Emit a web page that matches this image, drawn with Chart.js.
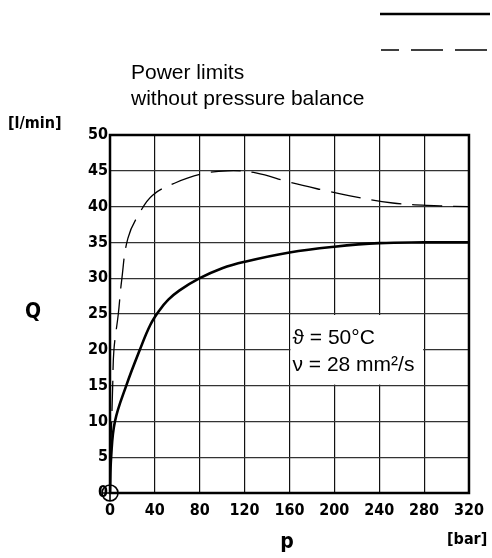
<!DOCTYPE html>
<html>
<head>
<meta charset="utf-8">
<script src="https://cdn.jsdelivr.net/npm/chart.js@4/dist/chart.umd.min.js"></script>
<style>
  html, body { margin: 0; padding: 0; background: #fff; }
  #wrap { width: 492px; height: 558px; }
</style>
</head>
<body>
<div id="wrap"><canvas id="chart-pq"></canvas></div>
<script>
// pressure p [bar] / flow Q [l/min]
const solidP = [0, 1, 4.4, 14.5, 26.6, 36, 44, 52, 62, 80, 100, 120, 160, 200, 240, 280, 320];
const solidQ = [0, 5, 10, 15, 20, 23.5, 25.5, 27, 28.3, 30, 31.4, 32.3, 33.6, 34.4, 34.9, 35, 35];
const dashP = [0, 0.5, 1.5, 2.4, 3.5, 7.4, 10.4, 16, 26.7, 38, 58, 80, 105, 130, 160, 190, 214, 252, 294, 320];
const dashQ = [0, 5, 10, 15, 20, 25, 29.7, 35.6, 39.2, 41.6, 43.3, 44.5, 45, 44.7, 43.4, 42.3, 41.5, 40.5, 40.1, 40];
const xTicks = [0, 40, 80, 120, 160, 200, 240, 280, 320];
const yTicks = [0, 5, 10, 15, 20, 25, 30, 35, 40, 45, 50];

const tickFont = { family: "'DejaVu Sans Condensed', sans-serif", size: 16, weight: 'bold' };

function pts(xs, ys) {
  return xs.map((x, i) => ({ x: x, y: ys[i] }));
}

const decor = {
  id: 'decor',
  beforeDatasetsDraw(chart) {
    const { ctx, scales: { x, y } } = chart;
    // white text box over cells 160-280 / 15-25
    const l = x.getPixelForValue(160), r = x.getPixelForValue(280);
    const t = y.getPixelForValue(25), b = y.getPixelForValue(15);
    ctx.save();
    ctx.fillStyle = '#fff';
    ctx.fillRect(l + 1, t + 1, r - l - 2, b - t - 2);
    ctx.fillStyle = '#000';
    ctx.font = "21px 'Liberation Sans', Arial, sans-serif";
    ctx.textBaseline = 'alphabetic';
    ctx.fillText('\u03D1 = 50°C', l + 3, t + 30);
    ctx.fillText('\u03BD = 28 mm²/s', l + 3, t + 57);
    ctx.restore();
  },
  afterDraw(chart) {
    const { ctx, chartArea: a } = chart;
    ctx.save();
    // frame
    ctx.strokeStyle = '#000';
    ctx.lineWidth = 2.5;
    ctx.strokeRect(a.left, a.top, a.right - a.left, a.bottom - a.top);

    // legend samples, top right
    ctx.lineWidth = 2.5;
    ctx.beginPath();
    ctx.moveTo(380, 14); ctx.lineTo(490, 14);
    ctx.stroke();
    ctx.lineWidth = 1.5;
    ctx.setLineDash([32, 12]);
    ctx.lineDashOffset = 14;
    ctx.beginPath();
    ctx.moveTo(381, 50); ctx.lineTo(489, 50);
    ctx.stroke();
    ctx.setLineDash([]);

    // title
    ctx.fillStyle = '#000';
    ctx.font = "21px 'Liberation Sans', Arial, sans-serif";
    ctx.textAlign = 'left';
    ctx.textBaseline = 'alphabetic';
    ctx.fillText('Power limits', 131, 79);
    ctx.fillText('without pressure balance', 131, 105);

    // axis labels
    ctx.font = "bold 16px 'DejaVu Sans Condensed', sans-serif";
    ctx.textBaseline = 'middle';
    ctx.fillText('[l/min]', 8, 124);
    ctx.fillText('[bar]', 447, 540);
    ctx.font = "bold 21px 'DejaVu Sans Condensed', sans-serif";
    ctx.textAlign = 'center';
    ctx.fillText('Q', 33, 313);
    ctx.fillText('p', 287, 543);
    ctx.restore();
  }
};

new Chart(document.getElementById('chart-pq').getContext('2d'), {
  type: 'line',
  data: {
    datasets: [
      {
        label: 'solid',
        data: pts(solidP, solidQ),
        borderColor: '#000',
        borderWidth: 2.6,
        pointRadius: 0,
        tension: 0.4,
        fill: false
      },
      {
        label: 'dashed',
        data: pts(dashP, dashQ),
        borderColor: '#000',
        borderWidth: 1.3,
        borderDash: [30, 11],
        pointRadius: 0,
        tension: 0.4,
        fill: false
      },
      {
        label: 'origin',
        data: [{ x: 0, y: 0 }],
        showLine: false,
        pointStyle: 'circle',
        pointRadius: 8,
        pointBorderWidth: 1.6,
        pointBorderColor: '#000',
        pointBackgroundColor: 'rgba(0,0,0,0)',
        clip: false
      },
      {
        label: 'origin-cross',
        data: [{ x: 0, y: 0 }],
        showLine: false,
        pointStyle: 'cross',
        pointRadius: 8,
        pointBorderWidth: 1.6,
        pointBorderColor: '#000',
        clip: false
      }
    ]
  },
  options: {
    responsive: true,
    maintainAspectRatio: false,
    animation: false,
    layout: { padding: { left: 0, top: 135, right: 23, bottom: 0 } },
    plugins: {
      legend: { display: false },
      tooltip: { enabled: false }
    },
    scales: {
      x: {
        type: 'linear',
        min: 0,
        max: 320,
        afterBuildTicks: (s) => { s.ticks = xTicks.map(v => ({ value: v })); },
        afterFit: (s) => { s.height = 65; },
        grid: { color: '#111', lineWidth: 1.2, drawTicks: false },
        border: { display: false },
        ticks: { color: '#000', font: tickFont, padding: 8, maxRotation: 0 }
      },
      y: {
        type: 'linear',
        min: 0,
        max: 50,
        afterBuildTicks: (s) => { s.ticks = yTicks.map(v => ({ value: v })); },
        afterFit: (s) => { s.width = 110; },
        grid: { color: '#333', lineWidth: 1.2, drawTicks: false },
        border: { display: false },
        ticks: { color: '#000', font: tickFont, padding: 2 }
      }
    }
  },
  plugins: [decor]
});
</script>
</body>
</html>
